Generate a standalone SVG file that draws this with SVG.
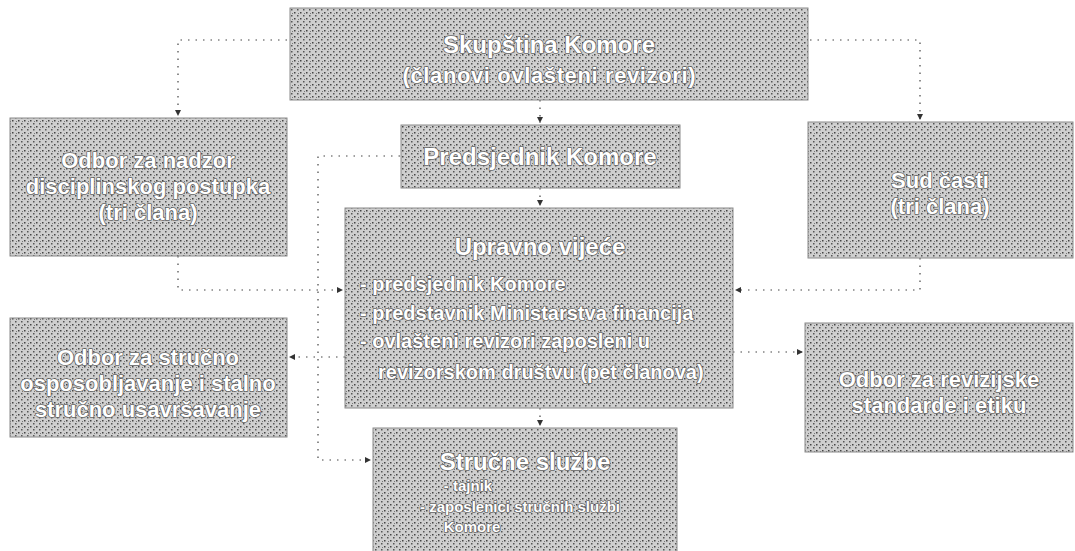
<svg xmlns="http://www.w3.org/2000/svg" width="1075" height="551" viewBox="0 0 1075 551">
<defs>
<pattern id="stip" width="6" height="6" patternUnits="userSpaceOnUse">
<rect width="6" height="6" fill="#cfcfcf"/>
<rect x="0" y="0" width="1.5" height="1.5" fill="#444"/>
<rect x="3" y="3" width="1.5" height="1.5" fill="#555"/>
<rect x="4" y="1" width="1" height="1" fill="#777"/>
</pattern>
<marker id="ah" viewBox="0 0 6 6" refX="6" refY="3" markerWidth="5" markerHeight="5" orient="auto">
<path d="M0,0 L6,3 L0,6 z" fill="#333"/>
</marker>
<style>
.box{fill:url(#stip);stroke:#8a8a8a;stroke-width:1}
.t{font-family:"Liberation Sans",Arial,sans-serif;font-weight:bold;fill:#fff;text-anchor:middle;font-size:20px;stroke:#666;stroke-width:1.6;stroke-linejoin:round;paint-order:stroke}
.tt{font-size:24px}
.tm{font-size:22px}
.ts{font-size:15px}
.l{text-anchor:start}
.c{fill:none;stroke:#444;stroke-width:1.2;stroke-dasharray:1.5 6}
</style>
</defs>
<rect width="1075" height="551" fill="#fff"/>
<g id="connectors">
<path class="c" d="M287,40 H178 V116" marker-end="url(#ah)"/>
<path class="c" d="M810,40 H920 V120" marker-end="url(#ah)"/>
<path class="c" d="M540,100 V123" marker-end="url(#ah)"/>
<path class="c" d="M540,188 V206" marker-end="url(#ah)"/>
<path class="c" d="M400,156 H318 V460 H371" marker-end="url(#ah)"/>
<path class="c" d="M178,256 V290 H343" marker-end="url(#ah)"/>
<path class="c" d="M920,258 V290 H735" marker-end="url(#ah)"/>
<path class="c" d="M345,357 H289" marker-end="url(#ah)"/>
<path class="c" d="M733,352 H803" marker-end="url(#ah)"/>
<path class="c" d="M540,408 V426" marker-end="url(#ah)"/>
</g>
<g id="skupstina">
<rect class="box" x="290" y="8" width="518" height="92"/>
<text class="t tt" x="549" y="53">Skupština Komore</text>
<text class="t tm" x="549" y="83" textLength="293" lengthAdjust="spacing">(članovi ovlašteni revizori)</text>
</g>
<g id="predsjednik">
<rect class="box" x="401" y="125" width="279" height="63"/>
<text class="t tt" x="540" y="165">Predsjednik Komore</text>
</g>
<g id="upravno">
<rect class="box" x="345" y="208" width="388" height="200"/>
<text class="t tt" x="540" y="255">Upravno vijeće</text>
<text class="t l" x="360" y="291">- predsjednik Komore</text>
<text class="t l" x="360" y="320">- predstavnik Ministarstva financija</text>
<text class="t l" x="360" y="348">- ovlašteni revizori zaposleni u</text>
<text class="t l" x="378" y="379">revizorskom društvu (pet članova)</text>
</g>
<g id="nadzor">
<rect class="box" x="10" y="118" width="277" height="138"/>
<text class="t tm" x="148" y="168">Odbor za nadzor</text>
<text class="t tm" x="148" y="194">disciplinskog postupka</text>
<text class="t tm" x="148" y="220">(tri člana)</text>
</g>
<g id="sud">
<rect class="box" x="808" y="122" width="265" height="136"/>
<text class="t tm" x="940" y="188">Sud časti</text>
<text class="t tm" x="940" y="214">(tri člana)</text>
</g>
<g id="osposobljavanje">
<rect class="box" x="10" y="318" width="277" height="119"/>
<text class="t tm" x="148" y="365">Odbor za stručno</text>
<text class="t tm" x="148" y="391">osposobljavanje i stalno</text>
<text class="t tm" x="148" y="417">stručno usavršavanje</text>
</g>
<g id="standardi">
<rect class="box" x="805" y="323" width="268" height="129"/>
<text class="t tm" x="939" y="387">Odbor za revizijske</text>
<text class="t tm" x="939" y="413">standarde i etiku</text>
</g>
<g id="sluzbe">
<rect class="box" x="373" y="428" width="304" height="130"/>
<text class="t tt" x="525" y="470">Stručne službe</text>
<text class="t ts" x="468" y="491">- tajnik</text>
<text class="t ts" x="520" y="512">- zaposlenici stručnih službi</text>
<text class="t ts" x="472" y="532">Komore</text>
</g>
</svg>
